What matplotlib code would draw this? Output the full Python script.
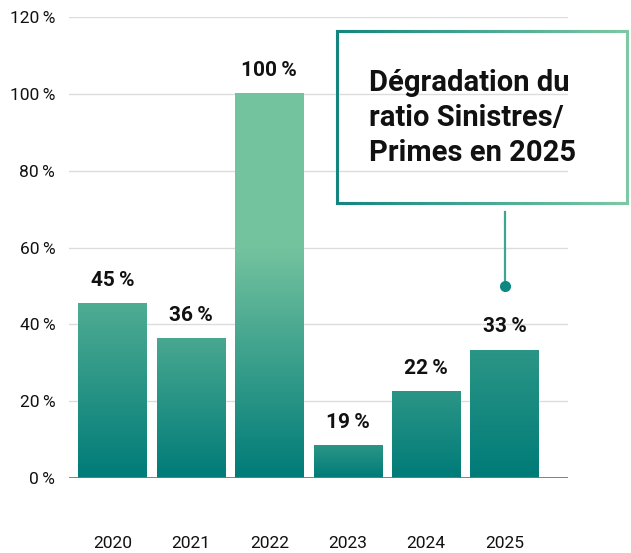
import numpy as np
import matplotlib
matplotlib.use("Agg")
import matplotlib.pyplot as plt
from matplotlib.collections import LineCollection
from matplotlib.colors import LinearSegmentedColormap, to_rgb

# ------------------------------------------------------------------
# Data
# ------------------------------------------------------------------
years = ["2020", "2021", "2022", "2023", "2024", "2025"]
ratio = [45.3, 36.2, 100, 8.4, 22.4, 33.3]           # bar heights (%)
bar_labels = ["45\u2009%", "36\u2009%", "100\u2009%", "19\u2009%", "22\u2009%", "33\u2009%"]
yticks = [0, 20, 40, 60, 80, 100, 120]
note = "Dégradation du\nratio Sinistres/\nPrimes en 2025"

# ------------------------------------------------------------------
# Style
# ------------------------------------------------------------------
DARK = "#007B78"
LIGHT = "#74C39F"
GRID = "#DCDCDC"
top_mix = [0.68, 0.62, 1.0, 0.37, 0.37, 0.37]   # how light each bar gets at its top
top_stop = [1.0, 1.0, 0.6, 1.0, 1.0, 1.0]       # where (fraction of height) that colour is reached

TICK_FONT = ["Roboto", "DejaVu Sans"]
BOLD_FONT = ["Roboto", "DejaVu Sans"]

fig = plt.figure(figsize=(6.31, 5.53), dpi=100)
ax = fig.add_axes([0.1094, 0.1356, 0.7908, 0.8336])

XL = (-0.555, 5.81)
x = np.arange(len(years))
bars = ax.bar(x, ratio, width=0.87, color="none", zorder=2)

dark = np.array(to_rgb(DARK))
light = np.array(to_rgb(LIGHT))
for b, m, st in zip(bars, top_mix, top_stop):
    top = dark + (light - dark) * m
    cm = LinearSegmentedColormap.from_list("g", [(0, DARK), (st, top), (1, top)])
    x0, w, h = b.get_x(), b.get_width(), b.get_height()
    ax.imshow(np.linspace(0, 1, 256).reshape(-1, 1), cmap=cm,
              origin="lower", aspect="auto",
              extent=(x0, x0 + w, 0, h), zorder=2)
ax.set_xlim(*XL)
ax.set_ylim(0, 120)

for xi, v, lab in zip(x, ratio, bar_labels):
    ax.text(xi, v + 3.6, lab, ha="center", va="bottom", fontsize=15,
            fontweight="bold", family=BOLD_FONT, color="#111111", zorder=4)

# grid + axes
for yv in yticks[1:]:
    ax.axhline(yv, color=GRID, lw=1, zorder=1)
ax.axhline(0, color="#777777", lw=1.3, zorder=3)
for s in ax.spines.values():
    s.set_visible(False)
ax.set_yticks(yticks)
ax.set_yticklabels([f"{t}\u2009%" for t in yticks], family=TICK_FONT, fontsize=12.5)
ax.set_xticks(x)
ax.set_xticklabels(years, family=TICK_FONT, fontsize=12.5)
ax.tick_params(axis="both", length=0, colors="#111111")
ax.tick_params(axis="y", pad=10)
ax.tick_params(axis="x", pad=42)

# connector line + dot above the 2025 bar
ax.plot([5, 5], [50, 69.3], color="#3FA592", lw=1.6, zorder=4, clip_on=False)
ax.plot(5, 50, "o", color="#0E8780", markersize=7, zorder=5)

# ------------------------------------------------------------------
# Callout box (pixel-coordinate overlay)
# ------------------------------------------------------------------
ov = fig.add_axes([0, 0, 1, 1], facecolor="none")
ov.set_xlim(0, 631)
ov.set_ylim(553, 0)
ov.axis("off")

bx0, bx1, by0, by1 = 337, 627, 31, 203
box_cmap = LinearSegmentedColormap.from_list("edge", ["#14857F", "#7CC9A4"])
n = 60
xs = np.linspace(bx0, bx1, n + 1)
segs, cols = [], []
for yb in (by0, by1):
    for i in range(n):
        segs.append([(xs[i], yb), (xs[i + 1], yb)])
        cols.append(box_cmap(i / n))
segs.append([(bx0, by0), (bx0, by1)]); cols.append(box_cmap(0.0))
segs.append([(bx1, by0), (bx1, by1)]); cols.append(box_cmap(1.0))
ov.add_collection(LineCollection(segs, colors=cols, linewidths=2.2,
                                 capstyle="projecting"))

ov.text(369, 118, note, ha="left", va="center", fontsize=21,
        fontweight="bold", family=BOLD_FONT, color="#111111",
        linespacing=1.3)

fig.savefig("out.png", dpi=100, facecolor="white")
